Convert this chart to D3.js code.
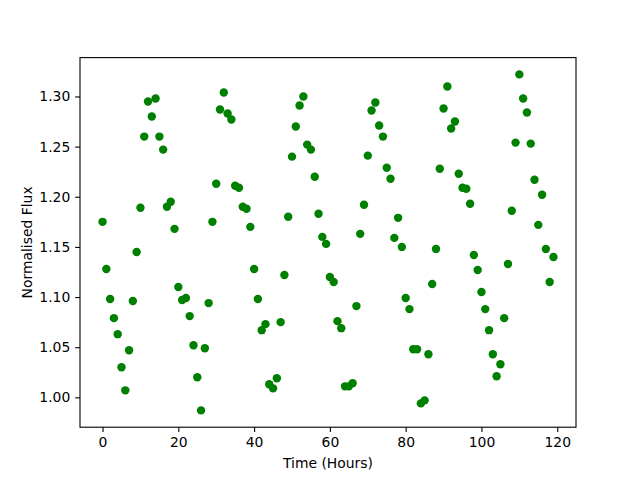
<!DOCTYPE html>
<html>
<head>
<meta charset="utf-8">
<script src="https://cdn.jsdelivr.net/npm/d3@7"></script>
<style>
  body { margin: 0; background: #fff; }
  svg { display: block; font-family: "DejaVu Sans", sans-serif; }
</style>
</head>
<body>
<div id="chart"></div>
<script>
// hours 0..119
const hours = d3.range(0, 120);

const flux = [
  1.175, 1.128, 1.098, 1.079, 1.063, 1.030, 1.007, 1.047, 1.096, 1.145,
  1.189, 1.260, 1.295, 1.280, 1.298, 1.260, 1.247, 1.190, 1.195, 1.168,
  1.110, 1.097, 1.099, 1.081, 1.052, 1.020, 0.987, 1.049, 1.094, 1.175,
  1.213, 1.287, 1.304, 1.283, 1.277, 1.211, 1.209, 1.190, 1.188, 1.170,
  1.128, 1.098, 1.067, 1.073, 1.013, 1.009, 1.019, 1.075, 1.122, 1.180,
  1.240, 1.270, 1.291, 1.300, 1.252, 1.247, 1.220, 1.183, 1.160, 1.153,
  1.120, 1.115, 1.076, 1.069, 1.011, 1.011, 1.014, 1.091, 1.163, 1.192,
  1.241, 1.286, 1.294, 1.271, 1.260, 1.229, 1.218, 1.159, 1.179, 1.150,
  1.099, 1.088, 1.048, 1.048, 0.994, 0.997, 1.043, 1.113, 1.148, 1.228,
  1.288, 1.310, 1.268, 1.275, 1.223, 1.209, 1.208, 1.193, 1.142, 1.127,
  1.105, 1.088, 1.067, 1.043, 1.021, 1.033, 1.079, 1.133, 1.186, 1.254,
  1.322, 1.298, 1.284, 1.253, 1.217, 1.172, 1.202, 1.148, 1.115, 1.140
];

const xTicks = [0, 20, 40, 60, 80, 100, 120];
const yTicks = [1.00, 1.05, 1.10, 1.15, 1.20, 1.25, 1.30];

const width = 640, height = 480;
const margin = { top: 57.6, right: 64, bottom: 52.8, left: 80 };
const innerW = width - margin.left - margin.right;
const innerH = height - margin.top - margin.bottom;

const points = hours.map((h, i) => ({ x: h, y: flux[i] }));

// matplotlib style 5% padding
function padded(ext) {
  const r = ext[1] - ext[0];
  return [ext[0] - 0.05 * r, ext[1] + 0.05 * r];
}

const x = d3.scaleLinear()
  .domain(padded(d3.extent(hours)))
  .range([0, innerW]);
const y = d3.scaleLinear()
  .domain(padded(d3.extent(flux)))
  .range([innerH, 0]);

const svg = d3.select("#chart").append("svg")
  .attr("width", width)
  .attr("height", height);

const g = svg.append("g")
  .attr("transform", "translate(" + margin.left + "," + margin.top + ")");

g.selectAll("circle")
  .data(points)
  .join("circle")
  .attr("cx", d => x(d.x))
  .attr("cy", d => y(d.y))
  .attr("r", 4.2)
  .attr("fill", "#008000");

const tickLen = 4.86;
const fontSize = 13.9;

const xAxis = g.append("g")
  .attr("transform", "translate(0," + innerH + ")")
  .call(d3.axisBottom(x).tickValues(xTicks).tickSize(tickLen).tickPadding(4.86).tickSizeOuter(0));
const yAxis = g.append("g")
  .call(d3.axisLeft(y).tickValues(yTicks).tickFormat(d3.format(".2f")).tickSize(tickLen).tickPadding(4.86).tickSizeOuter(0));

[xAxis, yAxis].forEach(a => {
  a.select(".domain").remove();
  a.selectAll("line").attr("stroke", "#000").attr("stroke-width", 1.1);
  a.selectAll("text")
    .attr("fill", "#000")
    .style("font-family", "DejaVu Sans")
    .style("font-size", fontSize + "px");
});

// frame
g.append("rect")
  .attr("width", innerW)
  .attr("height", innerH)
  .attr("fill", "none")
  .attr("stroke", "#000")
  .attr("stroke-width", 1.1);

svg.append("text")
  .attr("x", margin.left + innerW / 2)
  .attr("y", 468)
  .attr("text-anchor", "middle")
  .style("font-size", fontSize + "px")
  .text("Time (Hours)");

svg.append("text")
  .attr("transform", "translate(32," + (margin.top + innerH / 2) + ") rotate(-90)")
  .attr("text-anchor", "middle")
  .style("font-size", fontSize + "px")
  .text("Normalised Flux");
</script>
</body>
</html>
